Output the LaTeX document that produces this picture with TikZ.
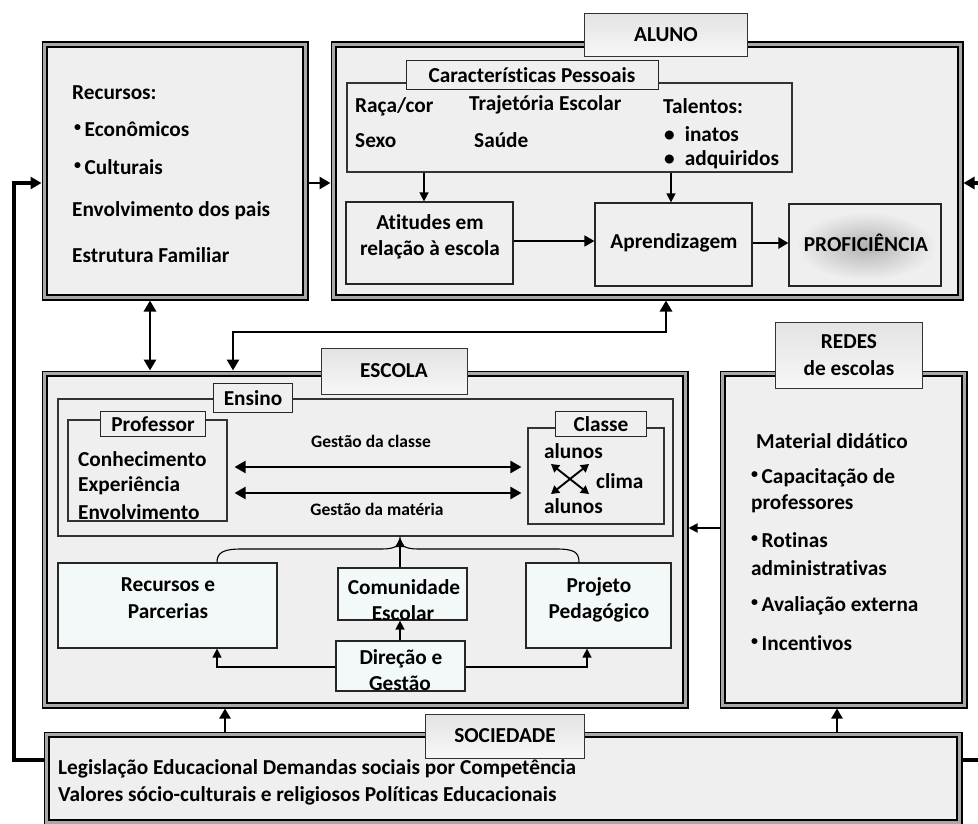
\documentclass[tikz,border=0pt]{standalone}
\usepackage{fontspec}
\setmainfont{Carlito}[Ligatures=NoCommon]
\usetikzlibrary{arrows.meta,fit,calc}
\definecolor{boxgray}{HTML}{EFEFEF}
\definecolor{paleblue}{HTML}{F3F8F8}
\definecolor{bandgray}{HTML}{A8A8A8}
\newcommand\txtM{\bfseries\fontsize{21.3}{26.5}\selectfont}
\newcommand\txtS{\bfseries\fontsize{17.5}{21}\selectfont}
\newcommand\bul{\raisebox{0.25em}{\fontsize{14}{14}\selectfont\textbullet}\,}
% double border of the large frames: thick outer line, grey band, thin inner line
\newcommand\innerlines[1]{%
  \draw[bandgray,line width=2.6pt] ([shift={(2.9pt,-2.9pt)}]#1.north west) rectangle ([shift={(-2.9pt,2.9pt)}]#1.south east);
  \draw[black,line width=1.7pt] ([shift={(5.4pt,-5.4pt)}]#1.north west) rectangle ([shift={(-5.4pt,5.4pt)}]#1.south east);}
\begin{document}
\begin{tikzpicture}[x=1pt,y=-1pt,
  frame/.style={draw=black,line width=3pt,fill=boxgray,inner sep=0pt},
  thinbox/.style={draw=black!80,line width=1.1pt,inner sep=0pt},
  innerbox/.style={draw=black!85,line width=1.2pt,fill=boxgray,inner sep=0pt,font=\txtM,align=center},
  schoolbox/.style={draw=black!85,line width=1.2pt,fill=paleblue,inner sep=0pt,font=\txtM,align=center},
  titlebox/.style={draw=black!80,line width=1pt,top color=gray!22,bottom color=gray!6,inner sep=0pt,font=\txtM,align=center},
  tagbox/.style={draw=black!85,line width=1pt,fill=boxgray,inner sep=0pt,font=\txtM},
  txt/.style={font=\txtM,inner sep=0pt,anchor=west},
  tip/.style={-{Triangle[length=9pt,width=9pt]}},
  arr/.style={tip,line width=1.4pt},
  midarr/.style={-{Triangle[length=10pt,width=11pt]},line width=2.4pt},
  dblarr/.style={{Triangle[length=11pt,width=12pt]}-{Triangle[length=11pt,width=12pt]},line width=2.4pt},
  bigarr/.style={-{Triangle[length=11pt,width=12pt]},line width=2.8pt},
  bigdbl/.style={{Triangle[length=11pt,width=12pt]}-{Triangle[length=11pt,width=12pt]},line width=2.8pt},
  xarr/.style={{Triangle[length=8pt,width=9pt]}-{Triangle[length=8pt,width=9pt]},line width=1.9pt}]
\useasboundingbox (0,0) rectangle (978,824);
\clip (0,0) rectangle (978,824);
\fill[white] (0,0) rectangle (978,824);

% ---------- large frames ----------
\node[frame,fit={(43,43)(307,299)}] (fam) {};
\node[frame,fit={(332,43)(962,299)}] (aluno) {};
\node[frame,fit={(43,372)(687,707)}] (escola) {};
\node[frame,fit={(721,372)(966,707)}] (redes) {};
\node[frame,fit={(45,733)(961,824)}] (soc) {};
\foreach \f in {fam,aluno,escola,redes,soc} {\innerlines{\f}}

% ---------- family ----------
\node[txt] (recursos) at (72,93) {Recursos:};
\node[txt] (econ) at (74,129) {\bul Econômicos};
\node[txt] (cult) at (74,167) {\bul Culturais};
\node[txt] (envp) at (72,211) {Envolvimento dos pais};
\node[txt] (estf) at (72,255) {Estrutura Familiar};

% ---------- student ----------
\node[titlebox,minimum width=163pt,minimum height=43pt] (alunot) at (666,35) {ALUNO};
\node[thinbox,fit={(347,83)(792,172)}] (carac) {};
\node[tagbox,minimum width=252pt,minimum height=29pt] (caract) at (532,75) {Características Pessoais};
\node[txt] (raca) at (355,107) {Raça/cor};
\node[txt] (sexo) at (355,141) {Sexo};
\node[txt] (traj) at (469,105) {Trajetória Escolar};
\node[txt] (saude) at (474,140) {Saúde};
\node[txt] (talent) at (663,106) {Talentos:};
\node[txt] (inatos) at (664,134) {\textbullet\hspace{10pt}inatos};
\node[txt] (adq) at (664,160) {\textbullet\hspace{10pt}adquiridos};
\node[innerbox,fit={(346,202)(513,284)}] (atit) {};
\node[font=\txtM,align=center,inner sep=0pt] (atitt) at (430,237) {Atitudes em\\relação à escola};
\node[innerbox,fit={(595,203)(752,286)}] (aprend) {};
\node[font=\txtM,inner sep=0pt] (aprendt) at (674,243) {Aprendizagem};
\node[innerbox,fit={(789,204)(941,286)}] (prof) {};
\shade[inner color=gray!60,outer color=boxgray] (866,246) ellipse [x radius=70pt,y radius=34pt];
\node[font=\txtM,inner sep=0pt] (proft) at (866,243) {PROFICIÊNCIA};

\coordinate (xa) at (424,0);
\coordinate (xb) at (671,0);
\coordinate (ya) at (0,241);
\coordinate (yb) at (0,243);
\draw[arr] (carac.south -| xa) -- (atit.north -| xa);
\draw[arr] (carac.south -| xb) -- (aprend.north -| xb);
\draw[midarr,line width=1.6pt] (atit.east |- ya) -- (aprend.west |- ya);
\draw[midarr] (aprend.east |- yb) -- (prof.west |- yb);

% ---------- school ----------
\node[titlebox,minimum width=146pt,minimum height=46pt] (escolat) at (394,371) {ESCOLA};
\node[thinbox,fit={(58,399)(673,536)}] (ensino) {};
\node[tagbox,minimum width=79pt,minimum height=29pt] (ensinot) at (253,398) {Ensino};
\node[thinbox,fit={(68,420)(227,521)}] (profes) {};
\node[tagbox,minimum width=105pt,minimum height=25pt] (profest) at (153,424) {Professor};
\node[txt] (conh) at (78,459) {Conhecimento};
\node[txt] (expe) at (78,486) {Experiência};
\node[txt] (envo) at (78,512) {Envolvimento};
\node[thinbox,fit={(528,428)(664,524)}] (classe) {};
\node[tagbox,minimum width=91pt,minimum height=25pt] (classet) at (601,424) {Classe};
\node[txt] (alun1) at (544,451) {alunos};
\node[txt] (clima) at (596,481) {clima};
\node[txt] (alun2) at (544,506) {alunos};
\coordinate (xq1) at (551,464);
\coordinate (xq2) at (589,494);
\coordinate (xq3) at (551,494);
\coordinate (xq4) at (589,464);
\draw[xarr] (xq1) -- (xq2);
\draw[xarr] (xq3) -- (xq4);

\coordinate (yg1) at (0,467);
\coordinate (yg2) at (0,493);
\draw[dblarr,shorten <=7pt,shorten >=6pt] (profes.east |- yg1) -- (classe.west |- yg1);
\draw[dblarr,shorten <=7pt,shorten >=6pt] (profes.east |- yg2) -- (classe.west |- yg2);
\node[font=\txtS,inner sep=0pt] (gcl) at (371,441) {Gestão da classe};
\node[font=\txtS,inner sep=0pt] (gma) at (377,509) {Gestão da matéria};

\node[schoolbox,fit={(58,563)(277,648)}] (recp) {};
\node[font=\txtM,align=center,inner sep=0pt] (recpt) at (168,598) {Recursos e\\Parcerias};
\node[schoolbox,fit={(338,568)(467,620)}] (comu) {};
\node[font=\txtM,inner sep=0pt] (comut) at (404,587) {Comunidade};
\node[font=\txtM,inner sep=0pt] (comut2) at (403,613) {Escolar};
\node[schoolbox,fit={(526,563)(671,648)}] (proj) {};
\node[font=\txtM,align=center,inner sep=0pt] (projt) at (599,600) {Projeto\\Pedagógico};
\node[schoolbox,fit={(336,641)(465,691)}] (dire) {};
\node[font=\txtM,inner sep=0pt] (diret) at (401,659) {Direção e};
\node[font=\txtM,inner sep=0pt] (diret2) at (400,683) {Gestão};

% brace gathering the three supports under the teaching box
\coordinate (bl) at (217,0);
\coordinate (br) at (579,0);
\coordinate (peak) at (400,538);
\draw[line width=1.1pt] (recp.north -| bl) .. controls (217,552) and (224,549) .. (242,549)
  -- (382,549) .. controls (396,549) and (400,545) .. (peak)
  .. controls (400,545) and (404,549) .. (418,549) -- (556,549)
  .. controls (574,549) and (579,552) .. (proj.north -| br);
\coordinate (xc) at (400,0);
\draw[arr] (comu.north -| xc) -- (peak);
\draw[arr] (dire.north -| xc) -- (comu.south -| xc);
\coordinate (yd) at (0,667);
\coordinate (xr) at (587,0);
\draw[arr] (dire.west |- yd) -| (recp.south -| bl);
\draw[arr] (dire.east |- yd) -| (proj.south -| xr);

% ---------- school networks ----------
\node[titlebox,minimum width=147pt,minimum height=66pt] (redest) at (849,355) {REDES\\de escolas};
\node[txt] (matd) at (756,441) {Material didático};
\node[txt] (capa) at (751,478) {\bul Capacitação de};
\node[txt] (capb) at (751,504) {professores};
\node[txt] (roti) at (751,540) {\bul Rotinas};
\node[txt] (rotb) at (751,568) {administrativas};
\node[txt] (aval) at (751,606) {\bul Avaliação externa};
\node[txt] (ince) at (751,643) {\bul Incentivos};

% ---------- society ----------
\node[titlebox,minimum width=159pt,minimum height=44pt] (soct) at (505,736) {SOCIEDADE};
\node[txt] (soc1) at (58,769) {Legislação Educacional Demandas sociais por Competência};
\node[txt] (soc2) at (58,796) {Valores sócio-culturais e religiosos Políticas Educacionais};

% ---------- connectors between frames ----------
\coordinate (yfa) at (0,183);
\coordinate (ysl) at (0,760);
\coordinate (lcor1) at (14,760);
\coordinate (lcor2) at (14,183);
\draw[bigarr,line width=3.6pt] (soc.west |- ysl) -- (lcor1) -- (lcor2) -- (fam.west |- yfa);
\draw[bigarr] (fam.east |- yfa) -- (aluno.west |- yfa);
\coordinate (rcor1) at (995,760);
\coordinate (rcor2) at (995,183);
\draw[bigarr,line width=3.4pt] (soc.east |- ysl) -- (rcor1) -- (rcor2) -- (aluno.east |- yfa);

\coordinate (xfe) at (150,0);
\draw[bigdbl] (fam.south -| xfe) -- (escola.north -| xfe);
\coordinate (xe) at (233,0);
\coordinate (xal) at (666,0);
\coordinate (ylink) at (0,332);
\draw[bigdbl] (escola.north -| xe) -- (xe |- ylink) -- (xal |- ylink) -- (aluno.south -| xal);

\coordinate (yre) at (0,528);
\draw[arr,line width=1.8pt] (redes.west |- yre) -- (escola.east |- yre);
\coordinate (xse) at (225,0);
\coordinate (xsr) at (837,0);
\draw[midarr] (soc.north -| xse) -- (escola.south -| xse);
\draw[midarr] (soc.north -| xsr) -- (redes.south -| xsr);
\end{tikzpicture}
\end{document}
